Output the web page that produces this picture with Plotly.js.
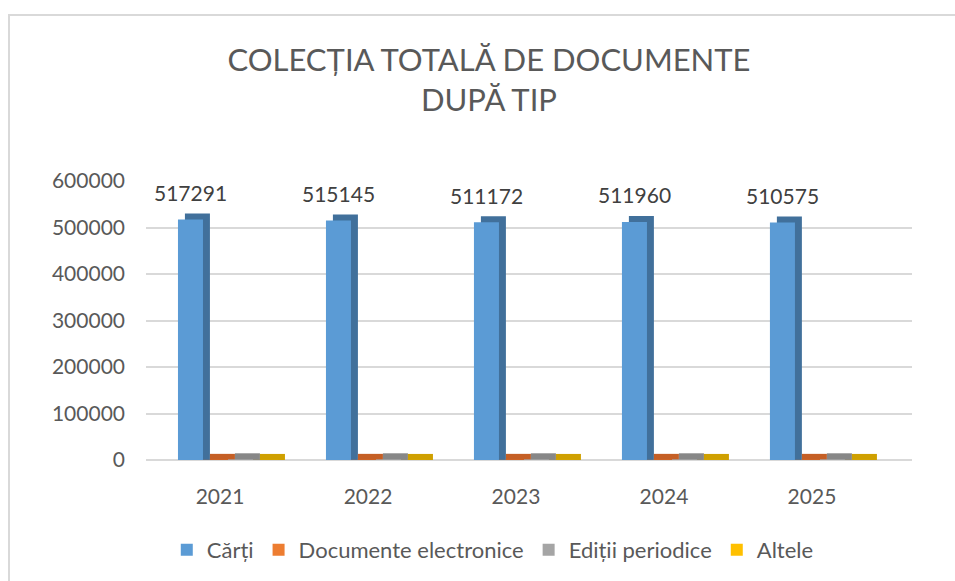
<!DOCTYPE html>
<html>
<head>
<meta charset="utf-8">
<script src="https://cdn.plot.ly/plotly-3.0.1.min.js"></script>
<style>
html,body{margin:0;padding:0;background:#fff;overflow:hidden;}
#frame{position:absolute;left:8px;top:14px;width:1000px;height:600px;border-left:2px solid #d9d9d9;border-top:2px solid #d9d9d9;}
#chart{position:absolute;left:0;top:0;width:955px;height:581px;}
</style>
</head>
<body>
<div id="frame"></div>
<div id="chart"></div>
<script>
// ---- data ----
const years = ["2021", "2022", "2023", "2024", "2025"];
const carti = [517291, 515145, 511172, 511960, 510575];
const documenteElectronice = [300, 300, 300, 300, 300];
const editiiPeriodice = [1500, 1500, 1500, 1500, 1500];
const altele = [150, 150, 150, 150, 150];
const seriesNames = ["Cărți", "Documente electronice", "Ediții periodice", "Altele"];

// ---- styles ----
const frontColors = ["#5b9bd5", "#ed7d31", "#a5a5a5", "#ffc000"];
const depthColors = ["#41709b", "#c55f25", "#878787", "#cfa000"];
const seriesValues = [carti, documenteElectronice, editiiPeriodice, altele];
const barW = 0.169;
const offsets = [-0.284, -0.115, 0.054, 0.223];
const dx = 0.047;       // depth shift in category units
const dyPx = 6;         // depth shift in pixels
const yMax = 600000;
const plotH = 279;
const dy = dyPx * yMax / plotH;

const traces = [];
// depth (back) traces
seriesValues.forEach((vals, i) => {
  traces.push({
    type: "bar", x: years, y: vals.map(v => v + dy),
    offset: offsets[i] + dx, width: barW,
    marker: {color: depthColors[i], line: {width: 0}},
    showlegend: false, hoverinfo: "skip"
  });
});
// front traces
seriesValues.forEach((vals, i) => {
  traces.push({
    type: "bar", x: years, y: vals, name: seriesNames[i],
    offset: offsets[i], width: barW,
    marker: {color: frontColors[i], line: {width: 0}},
    cliponaxis: false
  });
});

const txtColor = "#595959";
const fontFam = "Lato, 'Liberation Sans', sans-serif";

const annotations = carti.map((v, i) => ({
  x: i, y: v, xref: "x", yref: "y",
  text: String(v), showarrow: false,
  xshift: (offsets[0] + barW / 2) * 148, yshift: 27,
  font: {family: fontFam, size: 21, color: "#404040"}
}));

const layout = {
  width: 955, height: 581,
  paper_bgcolor: "rgba(0,0,0,0)", plot_bgcolor: "rgba(0,0,0,0)",
  margin: {l: 146, r: 43, t: 181, b: 121},
  barmode: "overlay",
  title: {
    text: "COLECȚIA TOTALĂ DE DOCUMENTE<br>DUPĂ TIP",
    xref: "container", x: 0.512, xanchor: "center",
    yref: "container", y: 1 - 71 / 581, yanchor: "top",
    font: {family: fontFam, size: 31, color: txtColor}
  },
  xaxis: {
    type: "category", range: [-0.5, 4.676],
    showgrid: false, zeroline: false, showline: false,
    ticks: "", ticklabelstandoff: 22,
    tickfont: {family: fontFam, size: 21, color: txtColor}
  },
  yaxis: {
    range: [0, yMax], dtick: 100000,
    showgrid: true, gridcolor: "#d9d9d9", gridwidth: 2,
    zeroline: true, zerolinecolor: "#d9d9d9", zerolinewidth: 2,
    showline: false, ticks: "", ticklabelstandoff: 20,
    tickformat: "d",
    tickfont: {family: fontFam, size: 21, color: txtColor}
  },
  legend: {
    orientation: "h", xref: "container", x: 0.516, xanchor: "center",
    yref: "container", y: (581 - 550) / 581, yanchor: "middle",
    font: {family: fontFam, size: 22, color: txtColor},
    itemsizing: "constant", traceorder: "normal"
  },
  annotations: annotations,
  showlegend: true
};

Plotly.newPlot("chart", traces, layout, {displayModeBar: false, staticPlot: true});
</script>
</body>
</html>
